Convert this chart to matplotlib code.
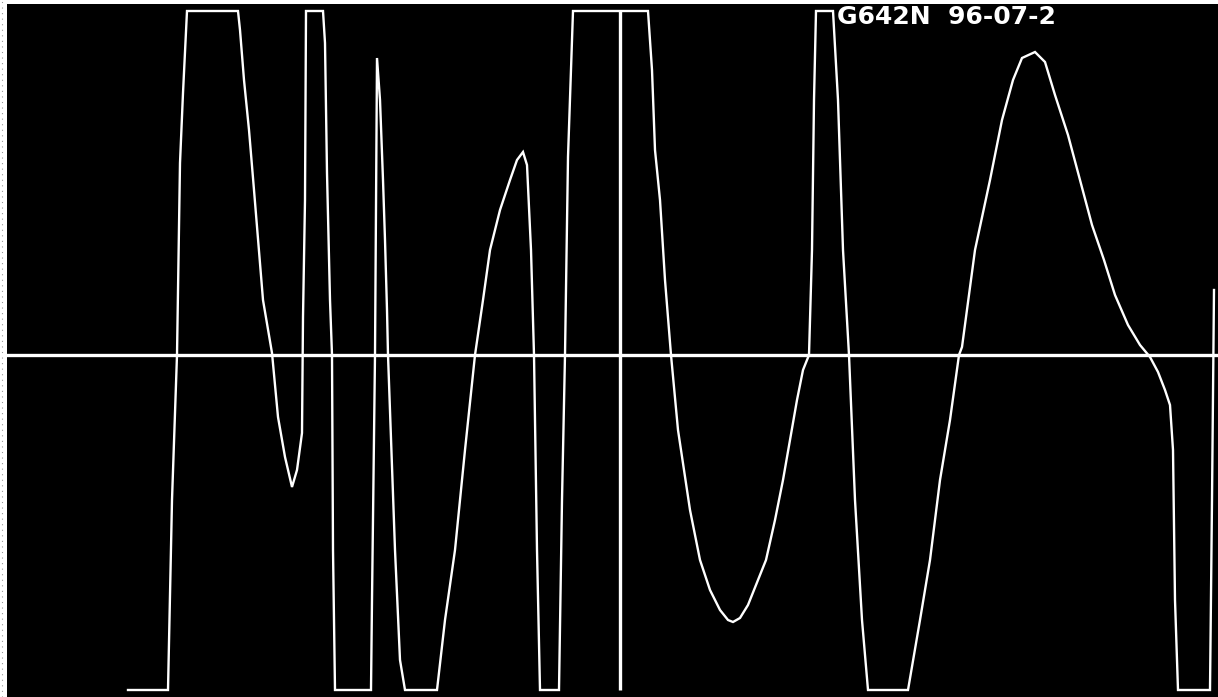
import numpy as np
import matplotlib
matplotlib.use("Agg")
import matplotlib.pyplot as plt

# scope trace: time in samples, level in ADC counts
t = [128, 168, 172, 177, 180, 183, 187, 238, 240, 244, 249, 254, 263, 272, 278, 285,
     292, 297, 302, 303, 305, 306, 323, 325, 327, 330, 332, 333, 335, 371, 372, 375,
     377, 380, 383, 385, 387, 388, 395, 400, 405, 437, 445, 455, 465, 475, 483, 490,
     500, 510, 517, 523, 527, 531, 534, 537, 540, 559, 562, 565, 568, 573, 648, 652,
     655, 660, 665, 671, 678, 690, 700, 710, 720, 728, 733, 740, 748, 758, 766, 775,
     783, 790, 797, 803, 809, 812, 814, 816, 833, 838, 843, 849, 855, 862, 868, 908,
     920, 930, 940, 950, 959, 962, 975, 990, 1002, 1013, 1022, 1035, 1045, 1055, 1068,
     1080, 1092, 1104, 1115, 1128, 1140, 1150, 1158, 1165, 1170, 1173, 1175, 1178,
     1210, 1212, 1214]
level = [-335, -335, -145, 0, 192, 262, 344, 344, 325, 275, 225, 165, 55, 2, -62, -102,
         -132, -115, -78, 38, 155, 344, 344, 312, 182, 55, 0, -195, -335, -335, -245, 0,
         297, 255, 175, 115, 45, 0, -195, -305, -335, -335, -265, -195, -95, 0, 55, 105,
         145, 175, 195, 203, 190, 105, 0, -195, -335, -335, -145, 0, 198, 344, 344, 285,
         205, 155, 75, 0, -75, -155, -205, -235, -255, -265, -267, -263, -250, -225, -205, -165,
         -125, -85, -45, -15, 0, 105, 255, 344, 344, 255, 105, 0, -145, -265, -335, -335,
         -265, -205, -125, -65, 0, 8, 105, 175, 235, 275, 297, 303, 293, 260, 220,
         175, 130, 95, 60, 30, 10, -2, -17, -35, -50, -95, -245, -335,
         -335, -145, 65]

marker_t = 620
clip_hi = 344
clip_lo = -335
header = "G642N  96-07-2"

fig = plt.figure(figsize=(12.18, 6.97), dpi=100)
fig.patch.set_facecolor("white")
ax = fig.add_axes([7 / 1218, 0, 1211 / 1218, 693 / 697])
ax.set_facecolor("black")

ax.axhline(0, color="white", lw=2.4)
ax.vlines(marker_t, clip_lo, clip_hi, color="white", lw=2.4)
ax.plot(t, level, color="white", lw=1.7, solid_joinstyle="miter")

ax.set_xlim(7, 1218)
ax.set_ylim(-342, 351)
ax.set_xticks([])
ax.set_yticks([])
for s in ax.spines.values():
    s.set_visible(False)

# header text at the top of the screen
ax.text(0.685, 0.998, header, transform=ax.transAxes, color="white",
        fontsize=18, fontweight="bold", va="top", ha="left")

# faint dotted edge on the left margin
fig.add_artist(plt.Line2D([2 / 1218, 2 / 1218], [0, 1], color="0.6", lw=0.8,
                          ls=(0, (1, 4))))

fig.savefig("out.png", dpi=100, facecolor="white")
